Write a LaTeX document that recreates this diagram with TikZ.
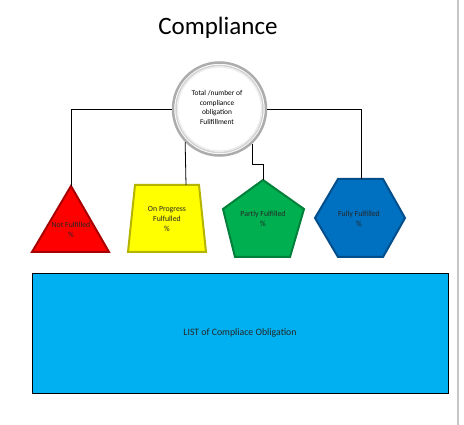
\documentclass[tikz,border=0pt]{standalone}
\usepackage{fontspec}
\setmainfont{Carlito}
\definecolor{rfill}{HTML}{FF0000}
\definecolor{rline}{HTML}{A80000}
\definecolor{yfill}{HTML}{FFFF00}
\definecolor{yline}{HTML}{B5B500}
\definecolor{gfill}{HTML}{00B050}
\definecolor{gline}{HTML}{00803A}
\definecolor{bfill}{HTML}{0070C0}
\definecolor{bline}{HTML}{004F8A}
\definecolor{cfill}{HTML}{00B0F0}
\tikzset{
  bevel/.style={line width=2pt, line join=miter},
  conn/.style={draw=black, line width=0.8pt},
  shapetext/.style={font=\fontsize{7.8}{10}\selectfont, text=black!85, align=center, inner sep=0},
}
\begin{document}
\begin{tikzpicture}[x=1pt,y=-1pt]
\useasboundingbox (0,0) rectangle (464,425);
\fill[white] (0,0) rectangle (464,425);
% right page edge
\draw[gray!45, line width=1.5pt] (458,0) -- (458,425);
% title
\node[font=\fontsize{25}{30}\selectfont, inner sep=0] (title) at (218,28) {Compliance};

% shapes
\filldraw[fill=rfill, draw=rline, bevel] (71,186) -- (109,252) -- (32,252) -- cycle;
\filldraw[fill=yfill, draw=yline, bevel] (135,185) -- (199,185) -- (206,252) -- (128,252) -- cycle;
\filldraw[fill=gfill, draw=gline, bevel] (263,180) -- (304,209) -- (290,257) -- (235,257) -- (223,209) -- cycle;
\filldraw[fill=bfill, draw=bline, bevel] (315,218) -- (338,179) -- (383,179) -- (405,218) -- (383,257) -- (338,257) -- cycle;

\coordinate (triTop) at (71,186);
\coordinate (trapTop) at (186,185);
\coordinate (pentTop) at (263,180);
\coordinate (hexTop) at (361,179);
\coordinate (bend) at (263,164);

\node[shapetext] (tri) at (71,230) {Not Fulfilled\\\%};
\node[shapetext] (trap) at (167,219) {On Progress\\Fulfulled\\\%};
\node[shapetext] (pent) at (263,219) {Partly Fulfilled\\\%};
\node[shapetext] (hex) at (359,219) {Fully Fulfilled\\\%};

% circle
\node[circle, minimum size=93pt, inner sep=0, fill=white, draw=gray!65, line width=2.5pt] (circ) at (219.5,109) {};
\draw[gray!35, line width=1.5pt] (circ.center) circle[radius=43.5pt];
\draw[gray!15, line width=1.2pt] (circ.center) circle[radius=42pt];
\node[font=\fontsize{7.4}{9.6}\selectfont, align=center, inner sep=0] (ctext) at (217,107.5) {Total /number of\\compliance\\obligation\\Fulifillment};

% connectors
\draw[conn] (circ.west) -| (triTop);
\draw[conn] (circ.east) -| (hexTop);
\draw[conn] (circ.224) -- (trapTop);
\draw[conn] (circ.313) |- (bend) -- (pentTop);

% list box
\node[draw=black, line width=0.8pt, fill=cfill, minimum width=416pt, minimum height=120pt, inner sep=0, font=\fontsize{9.8}{12}\selectfont, text=black!85] (list) at (240,333) {LIST of Compliace Obligation};
\end{tikzpicture}
\end{document}
